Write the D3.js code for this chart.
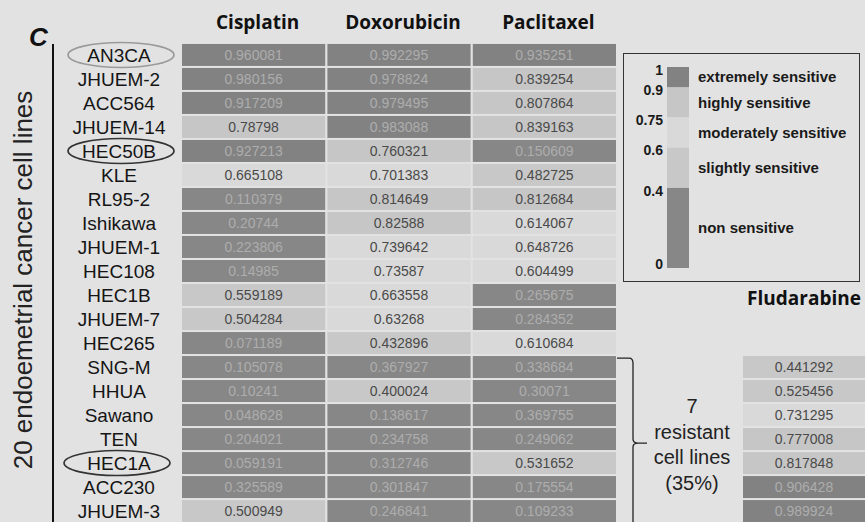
<!DOCTYPE html>
<html>
<head>
<meta charset="utf-8">
<script src="https://cdn.jsdelivr.net/npm/d3@7"></script>
<style>
  body { margin: 0; background: #e2e2e2; }
  svg { display: block; }
</style>
</head>
<body>
<div id="chart"></div>
<script>
// cell lines, top to bottom
const cellLines = ['AN3CA', 'JHUEM-2', 'ACC564', 'JHUEM-14', 'HEC50B', 'KLE', 'RL95-2', 'Ishikawa',
  'JHUEM-1', 'HEC108', 'HEC1B', 'JHUEM-7', 'HEC265', 'SNG-M', 'HHUA', 'Sawano', 'TEN', 'HEC1A',
  'ACC230', 'JHUEM-3'];
const drugs = ['Cisplatin', 'Doxorubicin', 'Paclitaxel'];

const cisplatin = [0.960081, 0.980156, 0.917209, 0.78798, 0.927213, 0.665108, 0.110379, 0.20744,
  0.223806, 0.14985, 0.559189, 0.504284, 0.071189, 0.105078, 0.10241, 0.048628, 0.204021, 0.059191,
  0.325589, 0.500949];
const doxorubicin = [0.992295, 0.978824, 0.979495, 0.983088, 0.760321, 0.701383, 0.814649, 0.82588,
  0.739642, 0.73587, 0.663558, 0.63268, 0.432896, 0.367927, 0.400024, 0.138617, 0.234758, 0.312746,
  0.301847, 0.246841];
const paclitaxel = [0.935251, 0.839254, 0.807864, 0.839163, 0.150609, 0.482725, 0.812684, 0.614067,
  0.648726, 0.604499, 0.265675, 0.284352, 0.610684, 0.338684, 0.30071, 0.369755, 0.249062, 0.531652,
  0.175554, 0.109233];

// fludarabine is only shown for the 7 resistant lines
const resistantLines = ['SNG-M', 'HHUA', 'Sawano', 'TEN', 'HEC1A', 'ACC230', 'JHUEM-3'];
const fludarabine = [0.441292, 0.525456, 0.731295, 0.777008, 0.817848, 0.906428, 0.989924];

// legend
const cutoffs = [0.4, 0.6, 0.75, 0.9];
const levelNames = ['non sensitive', 'slightly sensitive', 'moderately sensitive', 'highly sensitive', 'extremely sensitive'];
const legendTicks = [1, 0.9, 0.75, 0.6, 0.4, 0];
const circled = ['AN3CA', 'HEC50B', 'HEC1A'];

const width = 865, height = 522;
const sans = 'Liberation Sans, Arial, sans-serif';
const svg = d3.select('#chart').append('svg')
  .attr('width', width)
  .attr('height', height);

const color = d3.scaleThreshold()
  .domain(cutoffs)
  .range(['#878787', '#c8c8c8', '#d9d9d9', '#c6c6c6', '#828282']);
const dark = v => v < 0.4 || v >= 0.9;

const y = d3.scaleBand()
  .domain(cellLines)
  .range([43, 523])
  .paddingInner(0.085)
  .paddingOuter(0.04);

const x = d3.scaleBand()
  .domain(drugs)
  .range([182, 616])
  .paddingInner(0.015);

const values = { Cisplatin: cisplatin, Doxorubicin: doxorubicin, Paclitaxel: paclitaxel };
const cells = [];
drugs.forEach(drug => {
  values[drug].forEach((v, i) => cells.push({ drug, line: cellLines[i], v }));
});

// panel letter
svg.append('text')
  .attr('x', 29).attr('y', 46)
  .attr('font-family', sans)
  .attr('font-size', 26)
  .attr('font-style', 'italic')
  .attr('font-weight', 'bold')
  .attr('fill', '#111')
  .text('C');

// column headers
svg.selectAll('.head').data(drugs).enter().append('text')
  .attr('x', d => x(d) + x.bandwidth() / 2 + 4)
  .attr('y', 29)
  .attr('text-anchor', 'middle')
  .attr('font-family', 'Open Sans, sans-serif')
  .attr('font-weight', 'bold')
  .attr('font-size', 19)
  .attr('fill', '#111')
  .text(d => d);

// heatmap cells
const g = svg.append('g');
g.selectAll('rect').data(cells).enter().append('rect')
  .attr('x', d => x(d.drug))
  .attr('y', d => y(d.line))
  .attr('width', x.bandwidth())
  .attr('height', y.bandwidth())
  .attr('fill', d => color(d.v));

g.selectAll('text').data(cells).enter().append('text')
  .attr('x', d => x(d.drug) + x.bandwidth() / 2)
  .attr('y', d => y(d.line) + y.bandwidth() / 2)
  .attr('dy', '0.36em')
  .attr('text-anchor', 'middle')
  .attr('font-family', sans)
  .attr('font-size', 14)
  .attr('fill', d => dark(d.v) ? '#adadad' : '#4a4a4a')
  .text(d => d.v);

// row labels
svg.selectAll('.row').data(cellLines).enter().append('text')
  .attr('x', 119)
  .attr('y', d => y(d) + y.bandwidth() / 2)
  .attr('dy', '0.36em')
  .attr('text-anchor', 'middle')
  .attr('font-family', sans)
  .attr('font-size', 19)
  .attr('fill', '#151515')
  .text(d => d);

// circled cell lines
svg.selectAll('.ring').data(circled).enter().append('ellipse')
  .attr('cx', d => d === 'HEC1A' ? 117 : 121)
  .attr('cy', d => y(d) + y.bandwidth() / 2)
  .attr('rx', 53)
  .attr('ry', 12.5)
  .attr('fill', 'none')
  .attr('stroke', d => d === 'AN3CA' ? '#9a9a9a' : '#333')
  .attr('stroke-width', 1.6);

// left rule and axis title
svg.append('line')
  .attr('x1', 53).attr('x2', 53)
  .attr('y1', 44).attr('y2', height)
  .attr('stroke', '#111')
  .attr('stroke-width', 2);

svg.append('text')
  .attr('transform', 'translate(32,' + 280 + ') rotate(-90)')
  .attr('text-anchor', 'middle')
  .attr('font-family', sans)
  .attr('font-size', 26)
  .attr('fill', '#222')
  .text('20 endoemetrial cancer cell lines');

// legend
const ly = d3.scaleLinear().domain([0, 1]).range([268, 67]);
const legend = svg.append('g');
legend.append('rect')
  .attr('x', 623.5).attr('y', 53.5)
  .attr('width', 236).attr('height', 228)
  .attr('fill', 'none')
  .attr('stroke', '#333')
  .attr('stroke-width', 1);

const bands = d3.range(5).map(i => ({
  lo: i === 0 ? 0 : cutoffs[i - 1],
  hi: i === 4 ? 1 : cutoffs[i],
  name: levelNames[i]
}));

legend.selectAll('.band').data(bands).enter().append('rect')
  .attr('x', 667)
  .attr('y', d => ly(d.hi))
  .attr('width', 22)
  .attr('height', d => ly(d.lo) - ly(d.hi))
  .attr('fill', d => color((d.lo + d.hi) / 2));

legend.selectAll('.lname').data(bands).enter().append('text')
  .attr('x', 698)
  .attr('y', d => ly((d.lo + d.hi) / 2))
  .attr('dy', '0.36em')
  .attr('font-family', sans)
  .attr('font-weight', 'bold')
  .attr('font-size', 15)
  .attr('fill', '#1a1a1a')
  .text(d => d.name);

legend.selectAll('.tick').data(legendTicks).enter().append('text')
  .attr('x', 663)
  .attr('y', d => Math.min(Math.max(ly(d) + 3, 67), 264))
  .attr('dy', '0.36em')
  .attr('text-anchor', 'end')
  .attr('font-family', sans)
  .attr('font-weight', 'bold')
  .attr('font-size', 14)
  .attr('fill', '#1a1a1a')
  .text(d => d);

// brace for the resistant group
const braceTop = y('SNG-M') + 2;
const braceMid = (y('SNG-M') + y('JHUEM-3') + y.bandwidth()) / 2 + 4;
svg.append('path')
  .attr('d', `M617,${braceTop} L629,${braceTop} Q633,${braceTop} 633,${braceTop + 5} L633,${braceMid - 4}
    Q633,${braceMid} 638,${braceMid} L647,${braceMid}
    M638,${braceMid} Q633,${braceMid} 633,${braceMid + 4} L633,${height}`)
  .attr('fill', 'none')
  .attr('stroke', '#222')
  .attr('stroke-width', 1.3);

const braceText = ['7', 'resistant', 'cell lines', '(35%)'];
svg.selectAll('.brace').data(braceText).enter().append('text')
  .attr('x', 692)
  .attr('y', (d, i) => 413 + i * 25.5)
  .attr('text-anchor', 'middle')
  .attr('font-family', sans)
  .attr('font-size', 20)
  .attr('fill', '#222')
  .text(d => d);

// fludarabine column
svg.append('text')
  .attr('x', 804).attr('y', 305)
  .attr('text-anchor', 'middle')
  .attr('font-family', 'Open Sans, sans-serif')
  .attr('font-weight', 'bold')
  .attr('font-size', 19)
  .attr('fill', '#111')
  .text('Fludarabine');

const fl = resistantLines.map((line, i) => ({ line, v: fludarabine[i] }));
svg.selectAll('.fcell').data(fl).enter().append('rect')
  .attr('x', 743)
  .attr('y', d => y(d.line))
  .attr('width', 130)
  .attr('height', y.bandwidth())
  .attr('fill', d => color(d.v));

svg.selectAll('.ftext').data(fl).enter().append('text')
  .attr('x', 804)
  .attr('y', d => y(d.line) + y.bandwidth() / 2)
  .attr('dy', '0.36em')
  .attr('text-anchor', 'middle')
  .attr('font-family', sans)
  .attr('font-size', 14)
  .attr('fill', d => dark(d.v) ? '#adadad' : '#4a4a4a')
  .text(d => d.v);
</script>
</body>
</html>
